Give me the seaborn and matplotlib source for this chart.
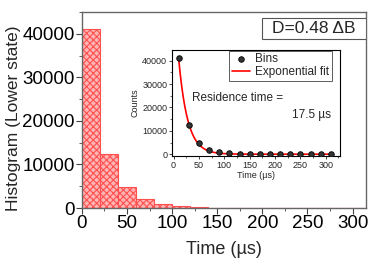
import numpy as np
import pandas as pd
import matplotlib
matplotlib.use('Agg')
import matplotlib.pyplot as plt
from matplotlib.patches import Rectangle
from matplotlib.ticker import MultipleLocator
import seaborn as sns

# Histogram of residence times (bin width 20 us)
bin_edges = [0, 20, 40, 60, 80, 100, 120, 140, 160, 180, 200, 220, 240, 260, 280, 300, 320]
bin_centers = [10, 30, 50, 70, 90, 110, 130, 150, 170, 190, 210, 230, 250, 270, 290, 310]
counts = [41000, 12300, 4750, 2000, 1000, 480, 230, 120, 60, 30, 15, 8, 4, 2, 1, 0]

# Exponential fit parameters
residence_time = 17.5
fit_amplitude = 72600
fit_start, fit_end = 10, 310

sns.set_theme(style='white')
plt.rcParams['font.family'] = ['Liberation Sans', 'DejaVu Sans']
plt.rcParams['hatch.linewidth'] = 0.8

df = pd.DataFrame({'time': bin_centers, 'count': counts})

fig = plt.figure(figsize=(3.74, 2.65), dpi=100)
ax = fig.add_axes([0.219, 0.215, 0.760, 0.740])

sns.histplot(data=df, x='time', weights='count', bins=bin_edges, ax=ax,
             color='#ffb4b4', edgecolor='#ff5050', linewidth=0.8, alpha=1.0)
for p in ax.patches:
    p.set_hatch('xxxxx')

ax.set_xlim(0, 315)
ax.set_ylim(0, 45000)
ax.xaxis.set_major_locator(MultipleLocator(50))
ax.xaxis.set_minor_locator(MultipleLocator(25))
ax.yaxis.set_major_locator(MultipleLocator(10000))
ax.yaxis.set_minor_locator(MultipleLocator(5000))
ax.tick_params(which='major', direction='out', length=4, width=0.8, labelsize=13.5,
               colors='#444444', labelcolor='black', pad=1,
               bottom=True, left=True)
ax.tick_params(which='minor', direction='out', length=2, width=0.6, colors='#444444',
               bottom=True, left=True)
for s in ax.spines.values():
    s.set_color('#666666')
    s.set_linewidth(1.0)
ax.set_xlabel('Time (µs)', fontsize=13)
ax.set_ylabel('Histogram (Lower state)', fontsize=12.5)
ax.xaxis.set_label_coords(0.5, -0.17)
ax.yaxis.set_label_coords(-0.213, 0.46)

# Label box at top right
ax.add_patch(Rectangle((0.634, 0.862), 0.366, 0.107, transform=ax.transAxes,
                       facecolor='white', edgecolor='#555555', linewidth=0.8, zorder=5))
ax.text(0.817, 0.916, 'D=0.48 ΔB', transform=ax.transAxes, ha='center', va='center',
        fontsize=12.5, zorder=6)

# Inset: bins with exponential fit
ins = fig.add_axes([0.460, 0.411, 0.449, 0.400])
t_fit = np.linspace(fit_start, fit_end, 300)
y_fit = fit_amplitude * np.exp(-t_fit / residence_time)
sns.lineplot(x=t_fit, y=y_fit, ax=ins, color='red', linewidth=1.2, label='Exponential fit', zorder=2)
sns.scatterplot(data=df, x='time', y='count', ax=ins, color='#333333', edgecolor='black',
                s=16, linewidth=0.6, label='Bins', zorder=3)

ins.set_xlim(-3, 328)
ins.set_ylim(-800, 44500)
ins.xaxis.set_major_locator(MultipleLocator(50))
ins.xaxis.set_minor_locator(MultipleLocator(25))
ins.yaxis.set_major_locator(MultipleLocator(10000))
ins.yaxis.set_minor_locator(MultipleLocator(5000))
ins.tick_params(which='major', direction='out', length=2.5, width=0.6, labelsize=6.5, pad=1,
                bottom=True, left=True)
ins.tick_params(which='minor', direction='out', length=1.5, width=0.5, bottom=True, left=True)
for s in ins.spines.values():
    s.set_color('black')
    s.set_linewidth(0.8)
ins.set_xlabel('Time (µs)', fontsize=6.5, labelpad=1)
ins.set_ylabel('Counts', fontsize=6.5, labelpad=2)

handles, labels = ins.get_legend_handles_labels()
leg = ins.legend(handles[::-1], labels[::-1], loc='upper right', bbox_to_anchor=(0.95, 0.995),
                 fontsize=8.5, frameon=True, fancybox=False, borderpad=0.2,
                 handlelength=1.6, handletextpad=0.4, labelspacing=0.1, borderaxespad=0)
leg.get_frame().set_edgecolor('#333333')
leg.get_frame().set_linewidth(0.7)

ins.text(0.12, 0.547, 'Residence time =', transform=ins.transAxes, fontsize=8.5, va='center')
ins.text(0.946, 0.387, '17.5 µs', transform=ins.transAxes, fontsize=8.5, va='center', ha='right')

fig.savefig('out.png', dpi=100)
